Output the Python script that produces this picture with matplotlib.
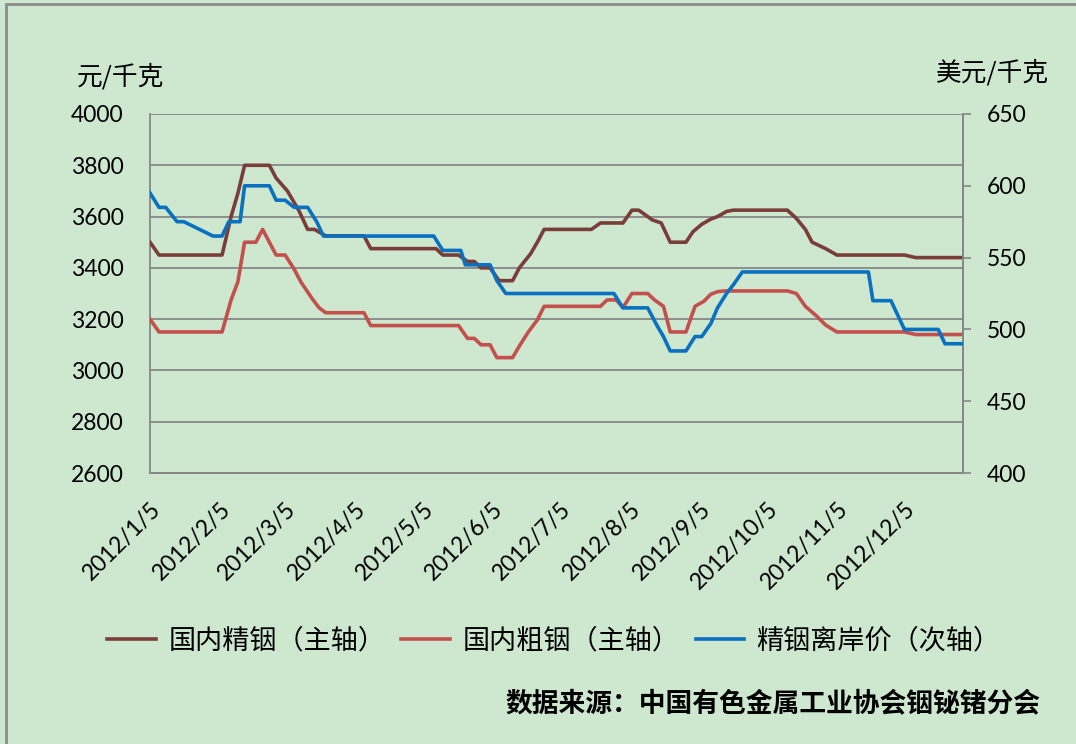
"""Indium price chart, 2012 (domestic refined / crude indium and offshore price)."""
import matplotlib

matplotlib.use("Agg")
import matplotlib.pyplot as plt
import pandas as pd
from matplotlib.patches import Rectangle

plt.rcParams["font.family"] = ["Lato", "Noto Sans CJK SC", "DejaVu Sans"]

#####################################################
# DATA
#####################################################

refined_dates = [
    "2012-01-05", "2012-01-09", "2012-02-06", "2012-02-10", "2012-02-13",
    "2012-02-16", "2012-02-27", "2012-03-01", "2012-03-06", "2012-03-11",
    "2012-03-15", "2012-03-18", "2012-03-23", "2012-04-09", "2012-04-12",
    "2012-05-11", "2012-05-14", "2012-05-21", "2012-05-25", "2012-05-28",
    "2012-05-31", "2012-06-04", "2012-06-08", "2012-06-14", "2012-06-17",
    "2012-06-22", "2012-06-25", "2012-06-28", "2012-07-19", "2012-07-23",
    "2012-08-02", "2012-08-06", "2012-08-09", "2012-08-13", "2012-08-15",
    "2012-08-19", "2012-08-23", "2012-08-30", "2012-09-02", "2012-09-06",
    "2012-09-10", "2012-09-13", "2012-09-17", "2012-09-20", "2012-10-14",
    "2012-10-18", "2012-10-22", "2012-10-25", "2012-10-31", "2012-11-05",
    "2012-12-05", "2012-12-10", "2012-12-31",
]
refined_price = [
    3500, 3450, 3450, 3600, 3690,
    3800, 3800, 3750, 3700, 3625,
    3550, 3550, 3525, 3525, 3475,
    3475, 3450, 3450, 3425, 3425,
    3400, 3400, 3350, 3350, 3400,
    3455, 3500, 3550, 3550, 3575,
    3575, 3625, 3625, 3600, 3587,
    3575, 3500, 3500, 3540, 3570,
    3590, 3600, 3620, 3625, 3625,
    3593, 3550, 3500, 3475, 3450,
    3450, 3440, 3440,
]

crude_dates = [
    "2012-01-05", "2012-01-09", "2012-02-06", "2012-02-10", "2012-02-13",
    "2012-02-16", "2012-02-21", "2012-02-24", "2012-02-27", "2012-03-01",
    "2012-03-05", "2012-03-09", "2012-03-12", "2012-03-17", "2012-03-20",
    "2012-03-23", "2012-04-09", "2012-04-12", "2012-05-21", "2012-05-25",
    "2012-05-28", "2012-05-31", "2012-06-04", "2012-06-07", "2012-06-14",
    "2012-06-17", "2012-06-21", "2012-06-25", "2012-06-28", "2012-07-23",
    "2012-07-26", "2012-07-30", "2012-08-02", "2012-08-06", "2012-08-13",
    "2012-08-16", "2012-08-20", "2012-08-23", "2012-08-30", "2012-09-03",
    "2012-09-07", "2012-09-10", "2012-09-13", "2012-09-16", "2012-10-14",
    "2012-10-18", "2012-10-22", "2012-10-27", "2012-10-31", "2012-11-05",
    "2012-12-05", "2012-12-10", "2012-12-31",
]
crude_price = [
    3200, 3150, 3150, 3275, 3345,
    3500, 3500, 3550, 3500, 3450,
    3450, 3395, 3345, 3280, 3245,
    3225, 3225, 3175, 3175, 3125,
    3125, 3100, 3100, 3050, 3050,
    3095, 3150, 3197, 3250, 3250,
    3275, 3275, 3245, 3300, 3300,
    3275, 3250, 3150, 3150, 3250,
    3270, 3297, 3307, 3310, 3310,
    3300, 3250, 3212, 3177, 3150,
    3150, 3140, 3140,
]

offshore_dates = [
    "2012-01-05", "2012-01-09", "2012-01-12", "2012-01-17", "2012-01-20",
    "2012-02-02", "2012-02-06", "2012-02-09", "2012-02-14", "2012-02-16",
    "2012-02-27", "2012-03-01", "2012-03-05", "2012-03-09", "2012-03-15",
    "2012-03-19", "2012-03-22", "2012-05-10", "2012-05-14", "2012-05-22",
    "2012-05-24", "2012-06-04", "2012-06-07", "2012-06-11", "2012-07-29",
    "2012-08-02", "2012-08-13", "2012-08-17", "2012-08-20", "2012-08-23",
    "2012-08-30", "2012-09-03", "2012-09-06", "2012-09-10", "2012-09-13",
    "2012-09-17", "2012-09-20", "2012-09-24", "2012-11-19", "2012-11-21",
    "2012-11-29", "2012-12-02", "2012-12-05", "2012-12-20", "2012-12-23",
    "2012-12-31",
]
offshore_price = [
    595, 585, 585, 575, 575,
    565, 565, 575, 575, 600,
    600, 590, 590, 585, 585,
    575, 565, 565, 555, 555,
    545, 545, 534, 525, 525,
    515, 515, 503, 495, 485,
    485, 495, 495, 504, 515,
    525, 531, 540, 540, 520,
    520, 510, 500, 500, 490,
    490,
]

tick_dates = [
    "2012-01-05", "2012-02-05", "2012-03-05", "2012-04-05", "2012-05-05",
    "2012-06-05", "2012-07-05", "2012-08-05", "2012-09-05", "2012-10-05",
    "2012-11-05", "2012-12-05",
]

series_labels = ["国内精铟（主轴）", "国内粗铟（主轴）", "精铟离岸价（次轴）"]
left_unit = "元/千克"
right_unit = "美元/千克"
source_text = "数据来源：中国有色金属工业协会铟铋锗分会"

#####################################################
# PARAMETERS
#####################################################

bg = "#CDE8CF"
grid_color = "#878787"
colors = ["#7A3E3A", "#C4504D", "#0A70C0"]
cjk = ["Noto Sans CJK SC", "DejaVu Sans"]

#####################################################
# PLOT
#####################################################

fig = plt.figure(figsize=(10.76, 7.44), dpi=100, facecolor=bg)
ax = fig.add_axes([150 / 1076, 1 - 473 / 744, 813 / 1076, 359 / 744])
ax.set_facecolor(bg)
ax2 = ax.twinx()

l1, = ax.plot(pd.to_datetime(refined_dates), refined_price, color=colors[0], lw=2.6,
              solid_joinstyle="round", zorder=3)
l2, = ax.plot(pd.to_datetime(crude_dates), crude_price, color=colors[1], lw=2.6,
              solid_joinstyle="round", zorder=3)
l3, = ax2.plot(pd.to_datetime(offshore_dates), offshore_price, color=colors[2], lw=2.6,
               solid_joinstyle="round", zorder=3)

# axes ranges
ax.set_xlim(pd.Timestamp("2012-01-05"), pd.Timestamp("2012-12-31"))
ax.set_ylim(2600, 4000)
ax2.set_ylim(400, 650)
ax.set_yticks(range(2600, 4001, 200))
ax2.set_yticks(range(400, 651, 50))

ticks = pd.to_datetime(tick_dates)
ax.set_xticks(ticks)
ax.set_xticklabels([f"{d.year}/{d.month}/{d.day}" for d in ticks], rotation=45,
                   ha="right", va="top", rotation_mode="anchor", fontsize=16.5)
ax.tick_params(axis="x", length=0, pad=18)
ax.tick_params(axis="y", length=0, labelsize=16.5, pad=19)
ax2.tick_params(axis="y", length=6, width=1.2, color=grid_color, labelsize=16.5, pad=11)

ax.grid(axis="y", color=grid_color, lw=1.3)
ax.set_axisbelow(True)
for a in (ax, ax2):
    a.spines["top"].set_visible(False)
    for s in ("left", "right", "bottom"):
        a.spines[s].set_color(grid_color)
        a.spines[s].set_linewidth(1.3)
ax2.spines["left"].set_visible(False)

# units
fig.text(77 / 1076, 1 - 77 / 744, left_unit, fontsize=18.5, family=cjk, va="center")
fig.text(1049 / 1076, 1 - 73 / 744, right_unit, fontsize=18.5, family=cjk,
         va="center", ha="right")

# legend
leg = fig.legend([l1, l2, l3], series_labels, loc="center", ncol=3,
                 bbox_to_anchor=(554 / 1076, 1 - 641 / 744), frameon=False,
                 prop={"family": cjk, "size": 19.5}, handlelength=1.8,
                 handletextpad=0.45, columnspacing=0.6)

# source
fig.text(1040 / 1076, 1 - 703 / 744, source_text, fontsize=19.3, family=cjk,
         fontweight="bold", ha="right", va="center")

# outer frame
fig.patches.append(Rectangle((6 / 1076, -0.01), 1.1, 1 - 4 / 744 + 0.01,
                             transform=fig.transFigure, fill=False,
                             edgecolor="#8C8C8C", lw=2))

fig.savefig("out.png", dpi=100, facecolor=bg)
plt.close()
